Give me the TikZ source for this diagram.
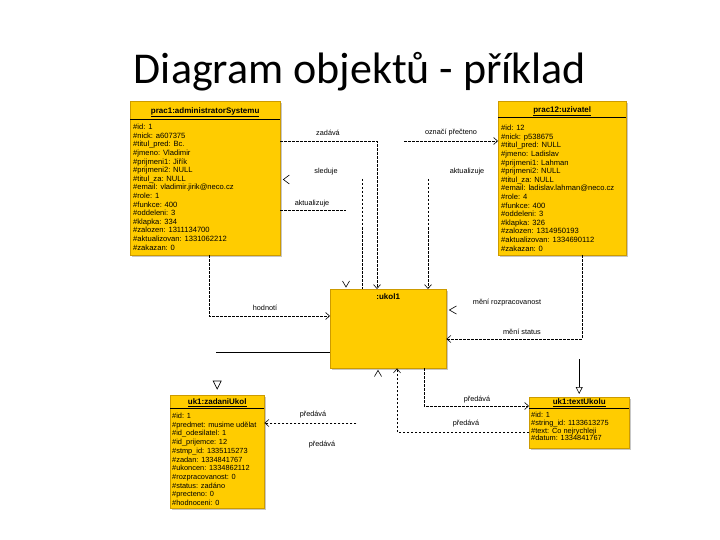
\documentclass[tikz,border=0pt]{standalone}
\usepackage{fontspec}
\setmainfont{Carlito}
\newfontfamily\umlfont{Liberation Sans}
\usetikzlibrary{arrows.meta,calc,shadows}
\definecolor{umlyellow}{RGB}{255,204,0}
\definecolor{umledge}{RGB}{205,155,0}
\begin{document}
\begin{tikzpicture}[x=1pt,y=-1pt,
  umlbox/.style={draw=umledge, fill=umlyellow, line width=0.4pt, inner sep=0pt, anchor=north west,
    drop shadow={shadow xshift=1.8pt, shadow yshift=-1.8pt, fill=black!22, opacity=1}},
  hdr/.style={font=\umlfont\bfseries\fontsize{8}{9}\selectfont, inner sep=0pt},
  attr/.style={font=\umlfont\fontsize{7.6}{8.6}\selectfont, align=left, anchor=north west, inner sep=0pt},
  lbl/.style={font=\umlfont\fontsize{7.3}{8.6}\selectfont, inner sep=0pt},
  dep/.style={draw, line width=0.6pt, dash pattern=on 2.5pt off 1.5pt},
  openhead/.style={-{Straight Barb[length=4pt,width=7pt,line width=0.6pt]}},
  gen/.style={-{Triangle[open,length=7pt,width=7pt,line width=0.6pt]}},
  sepline/.style={line width=0.5pt},
  loosehead/.style={line width=0.6pt}
]
\useasboundingbox (0,0) rectangle (720,540);

% title
\node[font=\fontsize{44}{50}\selectfont, anchor=base, inner sep=0pt] (title) at (360,84) {Diagram objektů - příklad};

% boxes
\node[umlbox, minimum width=150pt, minimum height=154pt] (b1) at (130,101) {};
\node[umlbox, minimum width=128pt, minimum height=154pt] (b2) at (498,101) {};
\node[umlbox, minimum width=116pt, minimum height=79pt] (u) at (330,289) {};
\node[umlbox, minimum width=94pt, minimum height=113pt] (b3) at (170,395) {};
\node[umlbox, minimum width=100pt, minimum height=51pt] (b4) at (529,397) {};

% separators
\draw[sepline] ($(b1.north west)+(0,18)$) -- ($(b1.north east)+(0,18)$);
\draw[sepline] ($(b2.north west)+(0,16)$) -- ($(b2.north east)+(0,16)$);
\draw[sepline] ($(b3.north west)+(0,13)$) -- ($(b3.north east)+(0,13)$);
\draw[sepline] ($(b4.north west)+(0,11)$) -- ($(b4.north east)+(0,11)$);

% headers
\node[hdr] (h1) at ($(b1.north)+(0,11)$) {\underline{prac1:administratorSystemu}};
\node[hdr] (h2) at ($(b2.north)+(0,10)$) {\underline{prac12:uzivatel}};
\node[hdr] (hu) at ($(u.north)+(0,8)$) {:ukol1};
\node[hdr] (h3) at ($(b3.north)+(0,8)$) {\underline{uk1:zadaniUkol}};
\node[hdr] (h4) at ($(b4.north)+(0,5.5)$) {\underline{uk1:textUkolu}};

% attributes
\node[attr] (a1) at ($(b1.north west)+(3,23)$) {\#id: 1\\\#nick: a607375\\\#titul\_pred: Bc.\\\#jmeno: Vladimir\\\#prijmeni1: Jiřík\\\#prijmeni2: NULL\\\#titul\_za: NULL\\\#email: vladimir.jirik@neco.cz\\\#role: 1\\\#funkce: 400\\\#oddeleni: 3\\\#klapka: 334\\\#zalozen: 1311134700\\\#aktualizovan: 1331062212\\\#zakazan: 0};
\node[attr] (a2) at ($(b2.north west)+(3,24)$) {\#id: 12\\\#nick: p538675\\\#titul\_pred: NULL\\\#jmeno: Ladislav\\\#prijmeni1: Lahman\\\#prijmeni2: NULL\\\#titul\_za: NULL\\\#email: ladislav.lahman@neco.cz\\\#role: 4\\\#funkce: 400\\\#oddeleni: 3\\\#klapka: 326\\\#zalozen: 1314950193\\\#aktualizovan: 1334690112\\\#zakazan: 0};
\node[attr, font=\umlfont\fontsize{7.4}{8.7}\selectfont] (a3) at ($(b3.north west)+(2,18)$) {\#id: 1\\\#predmet: musime udělat\\\#id\_odesilatel: 1\\\#id\_prijemce: 12\\\#stmp\_id: 1335115273\\\#zadan: 1334841767\\\#ukoncen: 1334862112\\\#rozpracovanost: 0\\\#status: zadáno\\\#precteno: 0\\\#hodnoceni: 0};
\node[attr, font=\umlfont\fontsize{7.4}{7.8}\selectfont] (a4) at ($(b4.north west)+(2,15)$) {\#id: 1\\\#string\_id: 1133613275\\\#text: Co nejrychleji\\\#datum: 1334841767};

% connectors
\draw[dep,openhead] ($(b1.north east)+(0,40)$) -| ($(u.north west)+(47,0)$);
\draw[dep] ($(u.north west)+(32,-110)$) -- ($(u.north west)+(32,0)$);
\draw[dep] ($(b1.north east)+(0,109)$) -- ++(66,0);
\draw[dep,openhead] ($(u.north west)+(98,-110)$) -- ($(u.north west)+(98,0)$);
\draw[dep,openhead] ($(b2.north west)+(-94,40)$) -- ($(b2.north west)+(0,40)$);
\draw[dep,openhead] ($(b1.south west)+(79,0)$) |- ($(u.north west)+(0,27)$);
\draw[line width=0.6pt] ($(u.north west)+(-114,63)$) -- ($(u.north west)+(0,63)$);
\draw[dep,openhead] ($(b2.south west)+(84,0)$) |- ($(u.north east)+(0,50)$);
\draw[line width=0.6pt,gen,shorten >=3pt] ($(b4.north)+(0,-38)$) -- (b4.north);
\draw[dep,openhead] ($(u.south west)+(94,0)$) |- ($(b4.north west)+(0,9)$);
\draw[dep,openhead] ($(b4.north west)+(0,35)$) -| ($(u.south west)+(67,0)$);
\draw[dep,openhead] ($(b3.north east)+(92,28)$) -- ($(b3.north east)+(0,28)$);

% loose arrow heads
\draw[loosehead] ($(u.north west)+(12.5,-8)$) -- ($(u.north west)+(16,-2)$) -- ($(u.north west)+(19.5,-8)$);
\draw[loosehead] ($(b1.north east)+(9,74)$) -- ($(b1.north east)+(3,78.5)$) -- ($(b1.north east)+(9,83)$);
\draw[loosehead] ($(u.north east)+(10,17)$) -- ($(u.north east)+(3,21)$) -- ($(u.north east)+(10,25)$);
\draw[loosehead] ($(u.south west)+(44.5,8)$) -- ($(u.south west)+(48,2)$) -- ($(u.south west)+(51.5,8)$);
\draw[loosehead] ($(b3.north)+(-4,-14)$) -- ($(b3.north)+(4,-14)$) -- ($(b3.north)+(0,-6)$) -- cycle;

% labels
\node[lbl] (l1) at (328,133) {zadává};
\node[lbl] (l2) at (451,133) {označí přečteno};
\node[lbl] (l3) at (326,172) {sleduje};
\node[lbl] (l4) at (467,172) {aktualizuje};
\node[lbl] (l5) at (312,204) {aktualizuje};
\node[lbl] (l6) at (265,308) {hodnotí};
\node[lbl] (l7) at (507,303) {mění rozpracovanost};
\node[lbl] (l8) at (522,332) {mění status};
\node[lbl] (l9) at (477,400) {předává};
\node[lbl] (l10) at (466,424) {předává};
\node[lbl] (l11) at (313,415) {předává};
\node[lbl] (l12) at (322,445) {předává};
\end{tikzpicture}
\end{document}
